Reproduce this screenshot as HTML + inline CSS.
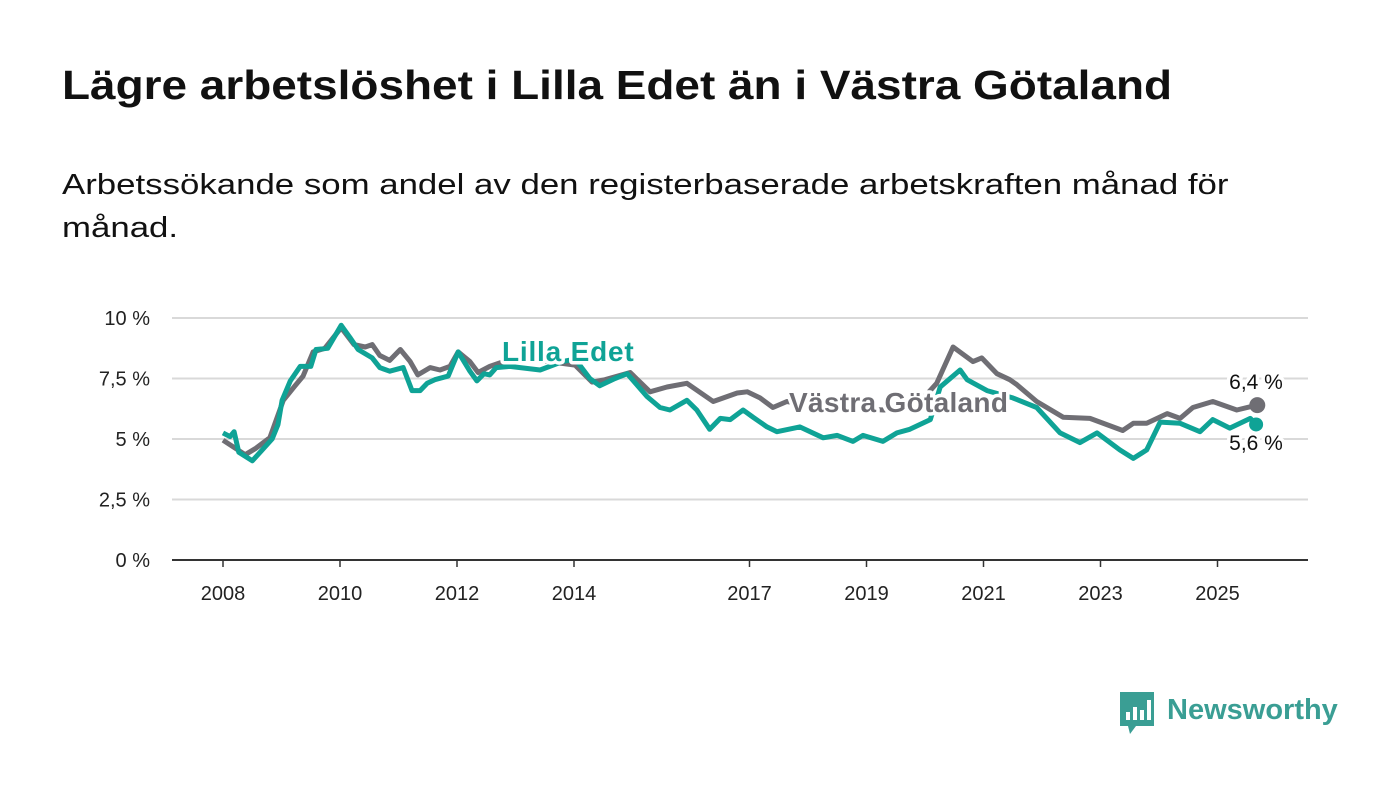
<!DOCTYPE html>
<html><head><meta charset="utf-8">
<style>
body{margin:0;background:#fff;font-family:"Liberation Sans",sans-serif;}
#wrap{position:relative;width:1400px;height:794px;overflow:hidden;background:#fff;}
h1{position:absolute;left:62px;top:62px;margin:0;font-size:41px;font-weight:bold;color:#111;transform:scaleX(1.12);transform-origin:0 0;white-space:nowrap;}
.sub{position:absolute;left:62px;top:164px;margin:0;font-size:29px;line-height:43px;color:#111;width:1100px;transform:scaleX(1.2);transform-origin:0 0;}
svg{position:absolute;left:0;top:0;}
</style></head>
<body>
<div id="wrap">
<h1>Lägre arbetslöshet i Lilla Edet än i Västra Götaland</h1>
<p class="sub">Arbetssökande som andel av den registerbaserade arbetskraften månad för<br>månad.</p>
<svg id="chart" width="1400" height="794"></svg>
</div>
<script>
const yTicks=[0,2.5,5,7.5,10];
const yTickLabels=["0 %","2,5 %","5 %","7,5 %","10 %"];
const xTicks=[2008,2010,2012,2014,2017,2019,2021,2023,2025];
const lillaDates=[2008.0,2008.12,2008.19,2008.27,2008.5,2008.67,2008.84,2008.94,2009.01,2009.15,2009.32,2009.5,2009.59,2009.79,2010.02,2010.17,2010.31,2010.55,2010.68,2010.85,2011.08,2011.23,2011.37,2011.49,2011.62,2011.85,2012.02,2012.22,2012.34,2012.46,2012.56,2012.67,2012.9,2013.42,2013.8,2014.02,2014.27,2014.44,2014.7,2014.91,2015.25,2015.47,2015.64,2015.93,2016.1,2016.32,2016.5,2016.67,2016.89,2017.06,2017.3,2017.47,2017.86,2018.26,2018.5,2018.77,2018.94,2019.28,2019.52,2019.74,2020.09,2020.26,2020.6,2020.72,2021.06,2021.5,2021.91,2022.31,2022.65,2022.94,2023.33,2023.56,2023.79,2024.02,2024.36,2024.7,2024.92,2025.21,2025.56,2025.66];
const lillaValues=[5.25,5.1,5.3,4.45,4.1,4.55,5.0,5.6,6.6,7.4,8.0,8.0,8.7,8.75,9.7,9.2,8.7,8.35,7.95,7.8,7.95,7.0,7.0,7.3,7.45,7.6,8.6,7.8,7.4,7.7,7.65,7.95,8.0,7.85,8.2,8.3,7.5,7.2,7.5,7.7,6.75,6.3,6.2,6.6,6.2,5.4,5.85,5.8,6.2,5.9,5.5,5.3,5.5,5.05,5.15,4.9,5.15,4.9,5.25,5.4,5.8,7.15,7.85,7.45,7.0,6.7,6.3,5.25,4.85,5.25,4.55,4.2,4.55,5.7,5.65,5.3,5.8,5.45,5.85,5.6];
const vgDates=[2008.0,2008.38,2008.55,2008.8,2009.03,2009.23,2009.37,2009.54,2009.74,2010.02,2010.24,2010.43,2010.55,2010.68,2010.85,2011.03,2011.2,2011.33,2011.54,2011.71,2011.88,2012.02,2012.22,2012.36,2012.56,2012.74,2012.96,2013.42,2014.02,2014.31,2014.53,2014.96,2015.3,2015.59,2015.93,2016.38,2016.79,2016.96,2017.18,2017.4,2017.64,2018.0,2018.5,2019.3,2019.9,2020.2,2020.48,2020.82,2020.97,2021.23,2021.45,2021.57,2021.91,2022.36,2022.82,2023.38,2023.56,2023.79,2024.14,2024.36,2024.58,2024.92,2025.33,2025.68];
const vgValues=[4.95,4.35,4.6,5.05,6.6,7.2,7.6,8.6,8.75,9.6,8.9,8.8,8.9,8.45,8.25,8.7,8.2,7.65,7.95,7.85,8.0,8.6,8.2,7.75,8.0,8.15,8.2,8.25,8.05,7.35,7.45,7.75,6.95,7.15,7.3,6.55,6.9,6.95,6.7,6.3,6.55,6.4,6.3,6.2,6.5,7.3,8.8,8.2,8.35,7.7,7.45,7.25,6.55,5.9,5.85,5.35,5.65,5.65,6.05,5.85,6.3,6.55,6.2,6.4];
const NS="http://www.w3.org/2000/svg";
const svg=document.getElementById('chart');
const X=yr=>223+(yr-2008)*58.5;
const Y=v=>560-v*24.2;
function mk(tag,attrs,parent){const e=document.createElementNS(NS,tag);for(const k in attrs)e.setAttribute(k,attrs[k]);(parent||svg).appendChild(e);return e;}
yTicks.forEach((t,i)=>{
  const l=mk('line',{x1:172,x2:1308,y1:Y(t),y2:Y(t),stroke:t===0?'#333':'#d9d9d9','stroke-width':2});
  
  
  const tx=mk('text',{x:150,y:Y(t)+7,'text-anchor':'end','font-size':20,fill:'#222','font-family':'Liberation Sans, sans-serif'});
  tx.textContent=yTickLabels[i];
  
  
});
xTicks.forEach(t=>{
  const l=mk('line',{x1:X(t),x2:X(t),y1:560,y2:567,stroke:'#333','stroke-width':1.5});
  
  
  const tx=mk('text',{x:X(t),y:600,'text-anchor':'middle','font-size':20,fill:'#222','font-family':'Liberation Sans, sans-serif'});
  tx.textContent=String(t);
  
  
});
function path(d,v){return d.map((x,i)=>(i?'L':'M')+X(x).toFixed(1)+' '+Y(v[i]).toFixed(1)).join(' ');}
const pv=mk('path',{d:path(vgDates,vgValues),fill:'none',stroke:'#6f6e74','stroke-width':5,'stroke-linejoin':'round'});


const pl=mk('path',{d:path(lillaDates,lillaValues),fill:'none',stroke:'#0fa396','stroke-width':5,'stroke-linejoin':'round'});


function label(txt,x,y,col,size,bold,name,anchor,ls){
  const t=mk('text',{x:x,y:y,'font-size':size,'font-weight':bold?'bold':'normal',fill:col,stroke:'#fff','stroke-width':7,'paint-order':'stroke','stroke-linejoin':'round','text-anchor':anchor||'start','letter-spacing':ls||0,'font-family':'Liberation Sans, sans-serif'});
  t.textContent=txt;
  
  
}
label('Lilla Edet',502,361,'#0fa396',28,true,'lilla-edet-label','start',0.8);
label('Västra Götaland',789,412,'#6f6e74',28,true,'vastra-gotaland-label','start',0.3);
const dv=mk('circle',{cx:X(vgDates[vgDates.length-1]),cy:Y(vgValues[vgValues.length-1]),r:8,fill:'#6f6e74'});


const dl=mk('circle',{cx:X(lillaDates[lillaDates.length-1]),cy:Y(lillaValues[lillaValues.length-1]),r:7,fill:'#0fa396'});


label('6,4 %',1256,389,'#111',21,false,'vastra-gotaland-end-value','middle');
label('5,6 %',1256,450,'#111',21,false,'lilla-edet-end-value','middle');
const g=mk('g',{});


mk('path',{d:'M1120 692 h34 v34 h-18 l-6 8 l-2 -8 h-8 z',fill:'#3a9e94'},g);
mk('rect',{x:1126,y:712,width:4,height:8,fill:'#fff'},g);
mk('rect',{x:1133,y:707,width:4,height:13,fill:'#fff'},g);
mk('rect',{x:1140,y:710,width:4,height:10,fill:'#fff'},g);
mk('rect',{x:1147,y:700,width:4,height:20,fill:'#fff'},g);
const lt=mk('text',{x:1167,y:719,'font-size':29,'font-weight':'bold',fill:'#3a9e94','font-family':'Liberation Sans, sans-serif'},g);
lt.textContent='Newsworthy';
</script>
</body></html>
